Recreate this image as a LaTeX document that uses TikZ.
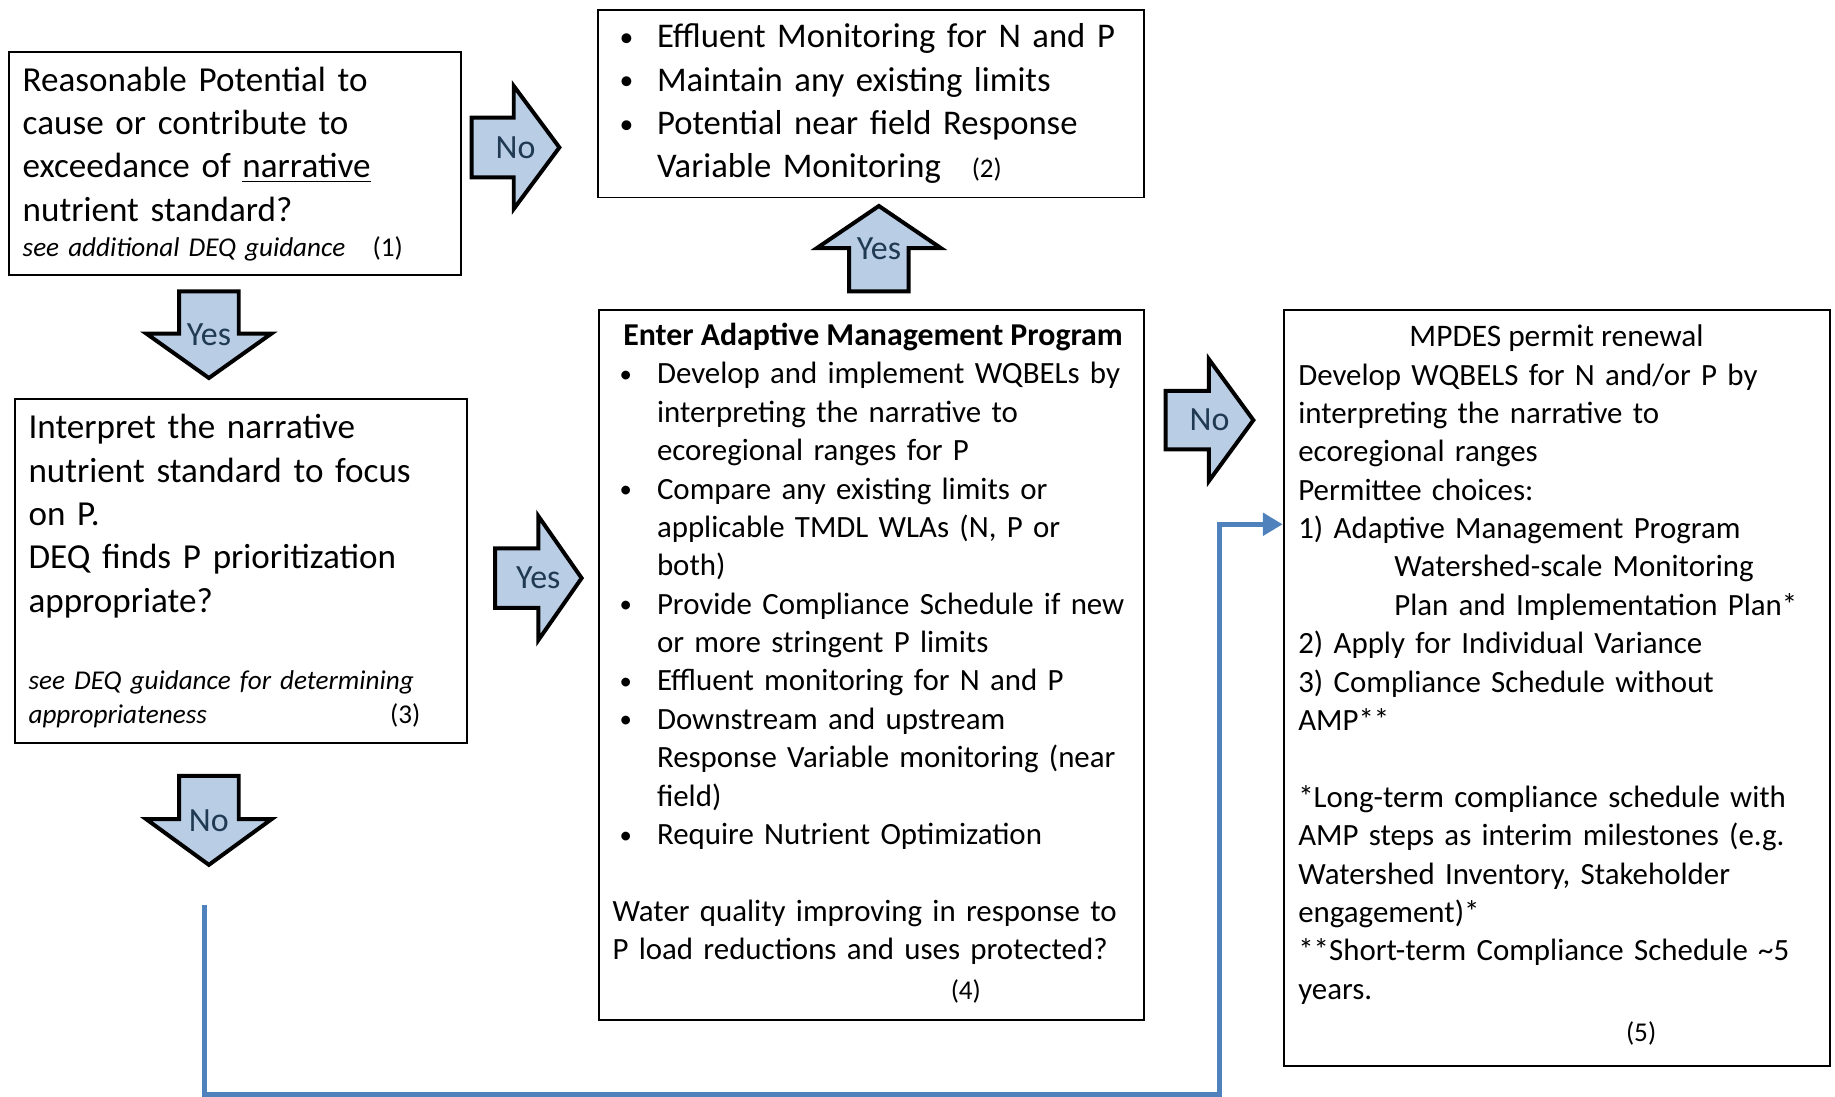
\documentclass[tikz,border=0pt]{standalone}
\usepackage{fontspec}
\setmainfont{Carlito}
\usetikzlibrary{arrows.meta}

\definecolor{arrowfill}{HTML}{B9CDE5}
\definecolor{arrowtext}{HTML}{1F3A52}
\definecolor{loopblue}{HTML}{4F81BD}

% bullet and hanging indent for list lines
\newcommand{\bul}{\makebox[17pt][l]{\hspace{1pt}\raisebox{0.6pt}{\scalebox{0.8}{\textbullet}}}}
\newcommand{\ind}{\hspace*{17pt}}

% block arrow: centre x, centre y, length, half head width, half shaft width, head length, angle, label, name
\newcommand{\blockarrow}[9]{%
  \begin{scope}[shift={(#1,#2)}, rotate=#7]
    \draw[blockarrow]
      ({-#3/2},{-#5}) -- ({#3/2-#6},{-#5}) -- ({#3/2-#6},{-#4}) -- ({#3/2},0)
      -- ({#3/2-#6},{#4}) -- ({#3/2-#6},{#5}) -- ({-#3/2},{#5}) -- cycle;
    \node[arrowlabel] (#9) at (0,0) {#8};
  \end{scope}}

\begin{document}
\begin{tikzpicture}[x=0.5pt, y=-0.5pt,
  box/.style={draw=black, line width=0.8pt, fill=white, inner sep=0pt, anchor=north west},
  bigtext/.style={anchor=base west, inner sep=0pt, text width=260pt, align=left,
    font=\fontsize{15}{18.5}\selectfont},
  listtext/.style={anchor=base west, inner sep=0pt, text width=260pt, align=left,
    font=\fontsize{13.2}{16.4}\selectfont},
  notetext/.style={anchor=base west, inner sep=0pt, text width=220pt, align=left,
    font=\fontsize{11.6}{14.5}\selectfont\itshape},
  numtext/.style={anchor=base west, inner sep=0pt, font=\fontsize{11.6}{14}\selectfont},
  blockarrow/.style={draw=black, line width=1.7pt, fill=arrowfill, line join=miter},
  arrowlabel/.style={inner sep=0pt, text=arrowtext, font=\fontsize{14.5}{17}\selectfont},
  loop/.style={draw=loopblue, line width=2.1pt, -{Triangle[length=8.5pt, width=9.5pt]}}
]
\useasboundingbox (0,0) rectangle (1568,937);

% ---- boxes ----
\node[box, minimum width=193pt, minimum height=95pt] (rp) at (7,44) {};
\node[box, minimum width=233.5pt, minimum height=80pt] (mon) at (510,8) {};
\node[box, minimum width=193pt, minimum height=147pt] (interp) at (12,340) {};
\node[box, minimum width=233pt, minimum height=303.5pt] (amp) at (511,264) {};
\node[box, minimum width=233.5pt, minimum height=323pt] (mpdes) at (1096,264) {};

% ---- box 1: reasonable potential ----
\node[bigtext] (rpText) at (19,78) {Reasonable Potential to\\
cause or contribute to\\
exceedance of \underline{narrative}\\
nutrient standard?};
\node[notetext] (rpNote) at (19,219) {see additional DEQ guidance};
\node[numtext] (rpNum) at (318,219) {(1)};

% ---- box 2: monitoring without limits ----
\node[bigtext, font=\fontsize{14.8}{18.5}\selectfont] (monText) at (527,41) {\bul Effluent Monitoring for N and P\\
\bul Maintain any existing limits\\
\bul Potential near field Response\\
\ind Variable Monitoring};
\node[numtext, font=\fontsize{11.5}{14}\selectfont] (monNum) at (830,152) {(2)};

% ---- box 3: interpretation focused on P ----
\node[bigtext] (interpText) at (24,375) {Interpret the narrative\\
nutrient standard to focus\\
on P.\\
DEQ finds P prioritization\\
appropriate?};
\node[notetext] (interpNote) at (24,589) {see DEQ guidance for determining\\
appropriateness};
\node[numtext] (interpNum) at (333,618) {(3)};

% ---- box 4: adaptive management program ----
\node[anchor=base, inner sep=0pt, font=\fontsize{13.6}{16.4}\selectfont\bfseries] (ampHead) at (746,295)
  {Enter Adaptive Management Program};
\node[listtext] (ampText) at (527,328) {\bul Develop and implement WQBELs by\\
\ind interpreting the narrative to\\
\ind ecoregional ranges for P\\
\bul Compare any existing limits or\\
\ind applicable TMDL WLAs (N, P or\\
\ind both)\\
\bul Provide Compliance Schedule if new\\
\ind or more stringent P limits\\
\bul Effluent monitoring for N and P\\
\bul Downstream and upstream\\
\ind Response Variable monitoring (near\\
\ind field)\\
\bul Require Nutrient Optimization\\
\mbox{}\\
\hspace*{-2pt}Water quality improving in response to\\
\hspace*{-2pt}P load reductions and uses protected?};
\node[numtext] (ampNum) at (812,854) {(4)};

% ---- box 5: permit renewal ----
\node[anchor=base, inner sep=0pt, font=\fontsize{13.4}{16.4}\selectfont] (mpdesHead) at (1330,296)
  {MPDES permit renewal};
\node[listtext] (mpdesText) at (1109,329) {Develop WQBELS for N and/or P by\\
interpreting the narrative to\\
ecoregional ranges\\
Permittee choices:\\
1) Adaptive Management Program\\
\hspace*{41pt}Watershed-scale Monitoring\\
\hspace*{41pt}Plan and Implementation Plan*\\
2) Apply for Individual Variance\\
3) Compliance Schedule without\\
AMP**\\
\mbox{}\\
{}*Long-term compliance schedule with\\
AMP steps as interim milestones (e.g.\\
Watershed Inventory, Stakeholder\\
engagement)*\\
{}**Short-term Compliance Schedule \textasciitilde5\\
years.};
\node[numtext] (mpdesNum) at (1389,890) {(5)};

% ---- decision arrows ----
\blockarrow{440.5}{126}{75}{52.5}{25.5}{39}{0}{No}{noRP}
\blockarrow{178.5}{286}{74}{53.5}{25.5}{38}{-90}{Yes}{yesRP}
\blockarrow{460}{494}{74}{53}{25.5}{37}{0}{Yes}{yesInterp}
\blockarrow{178.5}{701}{76}{53.5}{25.5}{39}{-90}{No}{noInterp}
\blockarrow{751}{212.5}{73}{53}{25.5}{36}{90}{Yes}{yesAMP}
\blockarrow{1033.5}{359}{75}{52}{25}{38}{0}{No}{noAMP}

% ---- return path from the P-focus "No" branch to permit renewal ----
\coordinate (loopStart) at (175,773);
\coordinate (loopCorner) at (1042,935);
\coordinate (loopEntry) at (1042,448);
\draw[loop] (loopStart) |- (loopCorner) -- (loopEntry) -- (mpdes.west |- loopEntry);
\end{tikzpicture}
\end{document}
